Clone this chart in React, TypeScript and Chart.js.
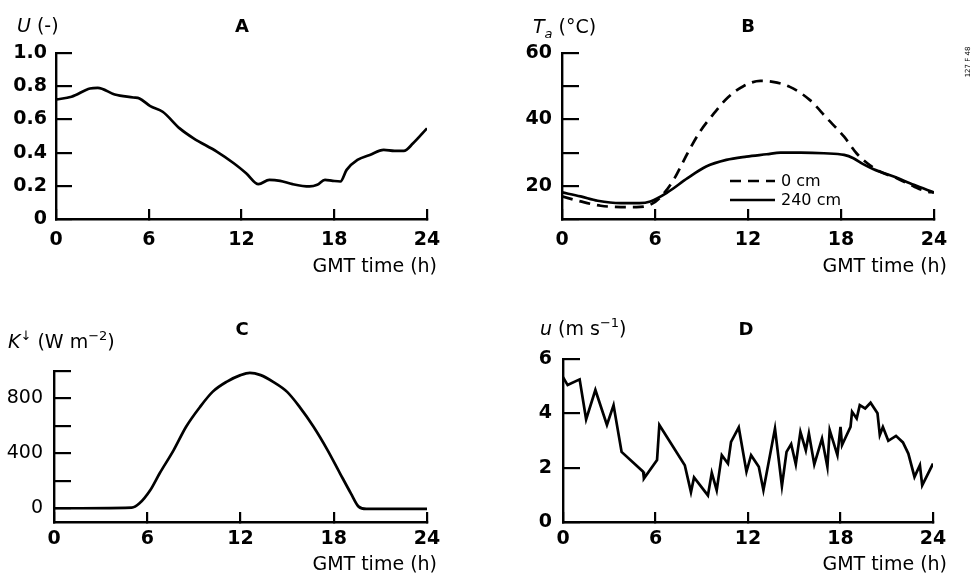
import React, { useEffect, useRef } from 'react';
import { Chart, registerables } from 'chart.js';

Chart.register(...registerables);

const FAMILY = '"DejaVu Sans", "Liberation Sans", sans-serif';
const INK = '#000000';

// shared x axis
const xTicks = [0, 6, 12, 18, 24];
const xTitle = 'GMT time (h)';

// Panel A: U (-)
const aHours = [0, 1, 2.2, 2.7, 3.8, 5.0, 5.4, 6.1, 6.9, 8.0, 8.9, 10.4, 11.5, 12.3, 13.1, 13.8, 14.5, 15.3, 16.4, 16.9, 17.4, 17.9, 18.4, 18.8, 19.5, 20.3, 21.2, 21.9, 22.5, 23.1, 24];
const aU = [0.72, 0.736, 0.786, 0.79, 0.75, 0.732, 0.726, 0.68, 0.646, 0.546, 0.486, 0.406, 0.336, 0.276, 0.21, 0.236, 0.23, 0.21, 0.196, 0.206, 0.236, 0.23, 0.226, 0.296, 0.356, 0.386, 0.416, 0.41, 0.41, 0.456, 0.546];
const aYTicks = [0, 0.2, 0.4, 0.6, 0.8, 1.0];
const aYLabels = ['0', '0.2', '0.4', '0.6', '0.8', '1.0'];

// Panel B: Ta (°C)
const bSeriesNames = ['0 cm', '240 cm'];
const bHours0 = [0, 1.2, 2.5, 3.8, 4.8, 5.7, 6.3, 7.2, 8.1, 8.9, 9.8, 10.7, 11.7, 12.8, 13.6, 14.7, 16.0, 17.1, 18.2, 19.0, 19.7, 20.5, 21.6, 22.7, 23.5, 24];
const bTemp0 = [16.8, 15.3, 14.0, 13.6, 13.6, 14.3, 16.3, 21.8, 29.8, 36.3, 41.8, 46.6, 50.0, 51.6, 51.3, 49.8, 45.8, 40.3, 34.8, 29.8, 26.8, 24.3, 22.3, 19.8, 18.3, 18.0];
const bHours240 = [0, 1.2, 2.3, 3.8, 5.0, 5.7, 6.8, 8.1, 9.3, 10.6, 11.9, 13.2, 14.1, 15.4, 16.9, 18.2, 18.8, 19.4, 20.1, 21.4, 22.7, 24];
const bTemp240 = [18.0, 16.8, 15.5, 14.8, 14.8, 15.3, 18.0, 22.3, 25.8, 27.8, 28.8, 29.5, 30.0, 30.0, 29.8, 29.3, 28.3, 26.6, 25.0, 22.8, 20.3, 18.0];
const bYTicks = [10, 20, 30, 40, 50, 60];
const bYLabels = ['', '20', '', '40', '', '60'];

// Panel C: K (W m-2)
const cHours = [0, 5.0, 5.5, 6.2, 6.8, 7.7, 8.5, 9.4, 10.2, 11.1, 12.0, 12.6, 13.3, 14.1, 15.0, 15.8, 16.7, 17.6, 18.4, 19.1, 19.6, 20.1, 24];
const cK = [0, 5, 36, 133, 255, 424, 594, 739, 848, 921, 970, 987, 970, 921, 848, 739, 594, 424, 255, 109, 12, -5, -5];
const cYTicks = [0, 200, 400, 600, 800, 1000];
const cYLabels = ['0', '', '400', '', '800', ''];

// Panel D: u (m s-1)
const dHours = [0, 0.3, 1.08, 1.5, 2.1, 2.85, 3.28, 3.8, 5.2, 5.25, 6.1, 6.25, 7.9, 8.3, 8.5, 9.4, 9.65, 9.97, 10.3, 10.7, 10.9, 11.4, 11.9, 12.2, 12.7, 13.0, 13.75, 14.2, 14.5, 14.8, 15.1, 15.4, 15.75, 15.95, 16.3, 16.8, 17.15, 17.3, 17.8, 18.0, 18.1, 18.35, 18.65, 18.75, 19.05, 19.25, 19.6, 19.95, 20.4, 20.55, 20.75, 21.1, 21.6, 22.05, 22.4, 22.8, 23.15, 23.3, 24.0];
const dWind = [5.33, 5.04, 5.25, 3.78, 4.86, 3.57, 4.3, 2.58, 1.85, 1.6, 2.28, 3.57, 2.09, 1.1, 1.64, 0.98, 1.81, 1.17, 2.46, 2.15, 2.95, 3.48, 1.85, 2.46, 2.03, 1.17, 3.44, 1.32, 2.58, 2.87, 2.12, 3.32, 2.64, 3.26, 2.12, 3.07, 2.03, 3.38, 2.46, 3.5, 2.83, 3.14, 3.5, 4.06, 3.81, 4.3, 4.18, 4.39, 4.0, 3.2, 3.5, 2.99, 3.17, 2.93, 2.52, 1.66, 2.09, 1.35, 2.15];
const dYTicks = [0, 2, 4, 6];
const dYLabels = ['0', '2', '4', '6'];

type Seg = { t: string; i?: boolean; b?: boolean; sup?: boolean; sub?: boolean };
type TextItem = { x: number; y: number; segs: Seg[]; size: number; align: 'left' | 'center' | 'right'; rot?: boolean };

function fontFor(s: Seg, size: number) {
  const sz = s.sup || s.sub ? Math.round(size * 0.66) : size;
  return `${s.i ? 'italic ' : ''}${s.b ? 'bold ' : ''}${sz}px ${FAMILY}`;
}

function drawRich(ctx: CanvasRenderingContext2D, x: number, y: number, segs: Seg[], size: number, align: string) {
  let total = 0;
  segs.forEach((s) => {
    ctx.font = fontFor(s, size);
    total += ctx.measureText(s.t).width;
  });
  let cx = align === 'right' ? x - total : align === 'center' ? x - total / 2 : x;
  ctx.textAlign = 'left';
  ctx.textBaseline = 'alphabetic';
  segs.forEach((s) => {
    ctx.font = fontFor(s, size);
    const dy = s.sup ? -size * 0.42 : s.sub ? size * 0.28 : 0;
    ctx.fillText(s.t, cx, y + dy);
    cx += ctx.measureText(s.t).width;
  });
}

interface Panel {
  box: [number, number, number, number];
  area: [number, number, number, number];
  yMin: number;
  yMax: number;
  yTicks: number[];
  yLabels: string[];
  yTickLen: number;
  yGap: number;
  yBold: boolean;
  xOffset: number;
  datasets: any[];
  texts: TextItem[];
  legend?: { x1: number; x2: number; tx: number; ys: number[]; size: number };
}

function series(label: string, xs: number[], ys: number[], extra: any = {}) {
  return {
    label,
    data: xs.map((h, k) => ({ x: h, y: ys[k] })),
    borderColor: INK,
    backgroundColor: INK,
    borderWidth: 2.7,
    pointRadius: 0,
    fill: false,
    ...extra,
  };
}

const smooth = { tension: 0.4, cubicInterpolationMode: 'monotone' };
const TICK_SIZE = 19;
const TITLE_SIZE = 19;

const panels: Panel[] = [
  {
    box: [0, 0, 488, 287],
    area: [56, 53, 427, 219],
    yMin: 0, yMax: 1.0, yTicks: aYTicks, yLabels: aYLabels, yTickLen: 16, yGap: 9, yBold: true,
    xOffset: 21,
    datasets: [series('U', aHours, aU, smooth)],
    texts: [
      { x: 17, y: 32, segs: [{ t: 'U', i: true }, { t: ' (-)' }], size: TITLE_SIZE, align: 'left' },
      { x: 242, y: 32, segs: [{ t: 'A', b: true }], size: 18, align: 'center' },
      { x: 437, y: 272, segs: [{ t: xTitle }], size: TITLE_SIZE, align: 'right' },
    ],
  },
  {
    box: [488, 0, 488, 287],
    area: [562, 53, 934, 219],
    yMin: 10, yMax: 60, yTicks: bYTicks, yLabels: bYLabels, yTickLen: 17, yGap: 10, yBold: true,
    xOffset: 21,
    datasets: [
      series(bSeriesNames[0], bHours0, bTemp0, { ...smooth, borderDash: [11, 7] }),
      series(bSeriesNames[1], bHours240, bTemp240, smooth),
    ],
    texts: [
      { x: 533, y: 33, segs: [{ t: 'T', i: true }, { t: 'a', i: true, sub: true }, { t: ' (°C)' }], size: TITLE_SIZE, align: 'left' },
      { x: 748, y: 32, segs: [{ t: 'B', b: true }], size: 18, align: 'center' },
      { x: 947, y: 272, segs: [{ t: xTitle }], size: TITLE_SIZE, align: 'right' },
      { x: 970, y: 62, segs: [{ t: '127 F 48' }], size: 7, align: 'center', rot: true },
    ],
    legend: { x1: 730, x2: 775, tx: 781, ys: [181, 200], size: 16 },
  },
  {
    box: [0, 287, 488, 288],
    area: [54, 371, 427, 522],
    yMin: -100, yMax: 1000, yTicks: cYTicks, yLabels: cYLabels, yTickLen: 17, yGap: 11, yBold: false,
    xOffset: 17,
    datasets: [series('K', cHours, cK, smooth)],
    texts: [
      { x: 8, y: 348, segs: [{ t: 'K', i: true }, { t: '↓', sup: true }, { t: ' (W m' }, { t: '−2', sup: true }, { t: ')' }], size: TITLE_SIZE, align: 'left' },
      { x: 242, y: 335, segs: [{ t: 'C', b: true }], size: 18, align: 'center' },
      { x: 437, y: 570, segs: [{ t: xTitle }], size: TITLE_SIZE, align: 'right' },
    ],
  },
  {
    box: [488, 287, 488, 288],
    area: [563, 359, 933, 522],
    yMin: 0, yMax: 6, yTicks: dYTicks, yLabels: dYLabels, yTickLen: 17, yGap: 11, yBold: true,
    xOffset: 17,
    datasets: [series('u', dHours, dWind, { tension: 0 })],
    texts: [
      { x: 540, y: 335, segs: [{ t: 'u', i: true }, { t: ' (m s' }, { t: '−1', sup: true }, { t: ')' }], size: TITLE_SIZE, align: 'left' },
      { x: 746, y: 335, segs: [{ t: 'D', b: true }], size: 18, align: 'center' },
      { x: 947, y: 570, segs: [{ t: xTitle }], size: TITLE_SIZE, align: 'right' },
    ],
  },
];

function PanelChart({ p }: { p: Panel }) {
  const ref = useRef<HTMLCanvasElement>(null);
  const [L, T, W, H] = p.box;
  useEffect(() => {
    const [al, at, ar, ab] = p.area;
    const annot = {
      id: 'annot',
      afterDraw(chart: any) {
        const ctx = chart.ctx as CanvasRenderingContext2D;
        ctx.save();
        ctx.fillStyle = INK;
        p.texts.forEach((it) => {
          if (it.rot) {
            ctx.save();
            ctx.translate(it.x - L, it.y - T);
            ctx.rotate(-Math.PI / 2);
            drawRich(ctx, 0, 0, it.segs, it.size, it.align);
            ctx.restore();
          } else {
            drawRich(ctx, it.x - L, it.y - T, it.segs, it.size, it.align);
          }
        });
        if (p.legend) {
          const lg = p.legend;
          chart.data.datasets.forEach((ds: any, k: number) => {
            const y = lg.ys[k] - T;
            ctx.beginPath();
            ctx.setLineDash(ds.borderDash || []);
            ctx.lineWidth = ds.borderWidth;
            ctx.strokeStyle = ds.borderColor;
            ctx.moveTo(lg.x1 - L, y);
            ctx.lineTo(lg.x2 - L, y);
            ctx.stroke();
            ctx.setLineDash([]);
            drawRich(ctx, lg.tx - L, y + 5, [{ t: ds.label }], lg.size, 'left');
          });
        }
        ctx.restore();
      },
    };
    const lineH = TICK_SIZE * 1.2;
    const chart = new Chart(ref.current as HTMLCanvasElement, {
      type: 'line',
      data: { datasets: p.datasets },
      options: {
        animation: false,
        responsive: false,
        maintainAspectRatio: false,
        layout: { padding: { left: 0, top: at - T, right: L + W - ar, bottom: 0 } },
        plugins: { legend: { display: false }, tooltip: { enabled: false }, title: { display: false } },
        scales: {
          x: {
            type: 'linear',
            position: 'bottom',
            min: 0,
            max: 24,
            afterBuildTicks: (s: any) => {
              s.ticks = xTicks.map((v) => ({ value: v }));
            },
            ticks: {
              autoSkip: false,
              maxRotation: 0,
              color: INK,
              padding: p.xOffset + 10 - lineH / 2,
              font: { family: FAMILY, size: TICK_SIZE, weight: 'bold' },
              callback: (v: any) => String(v),
            },
            grid: { display: true, drawOnChartArea: false, drawTicks: true, tickLength: -10, lineWidth: 2.2, color: INK },
            border: { display: true, color: INK, width: 2.4 },
            afterFit: (s: any) => {
              s.height = T + H - ab;
              s.paddingLeft = 0;
              s.paddingRight = 0;
            },
          },
          y: {
            type: 'linear',
            position: 'left',
            min: p.yMin,
            max: p.yMax,
            afterBuildTicks: (s: any) => {
              s.ticks = p.yTicks.map((v) => ({ value: v }));
            },
            ticks: {
              autoSkip: false,
              color: INK,
              padding: p.yGap + p.yTickLen,
              font: { family: FAMILY, size: TICK_SIZE, weight: p.yBold ? 'bold' : 'normal' },
              callback: (v: any) => {
                const k = p.yTicks.indexOf(Number(v));
                return k >= 0 ? p.yLabels[k] : '';
              },
            },
            grid: { display: true, drawOnChartArea: false, drawTicks: true, tickLength: -p.yTickLen, lineWidth: 2.2, color: INK },
            border: { display: true, color: INK, width: 2.4 },
            afterFit: (s: any) => {
              s.width = al - L;
              s.paddingTop = 0;
              s.paddingBottom = 0;
            },
          },
        },
      } as any,
      plugins: [annot],
    });
    return () => chart.destroy();
  }, [p]);
  return (
    <canvas
      ref={ref}
      width={W}
      height={H}
      style={{ position: 'absolute', left: L, top: T, width: W, height: H }}
    />
  );
}

export default function App() {
  return (
    <div style={{ position: 'fixed', left: 0, top: 0, width: 976, height: 575, background: '#ffffff', overflow: 'hidden' }}>
      {panels.map((p, k) => (
        <PanelChart key={k} p={p} />
      ))}
    </div>
  );
}
